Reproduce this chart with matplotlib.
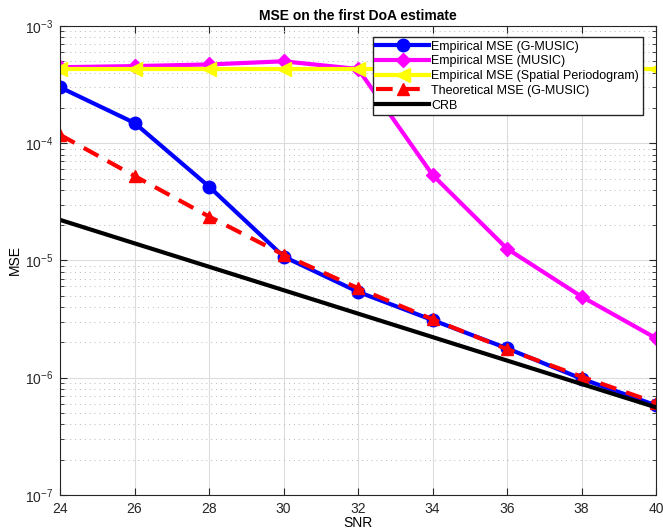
import matplotlib
matplotlib.use('Agg')
import matplotlib.pyplot as plt
import numpy as np
from matplotlib.ticker import LogLocator, NullFormatter

plt.rcParams['font.family'] = ['Liberation Sans', 'DejaVu Sans']
plt.rcParams['mathtext.default'] = 'regular'
plt.rcParams['font.size'] = 10

snr = [24, 26, 28, 30, 32, 34, 36, 38, 40]
mse_gmusic = [3.0e-4, 1.49e-4, 4.27e-5, 1.08e-5, 5.4e-6, 3.1e-6, 1.78e-6, 0.98e-6, 5.8e-7]
mse_music = [4.45e-4, 4.55e-4, 4.7e-4, 5.0e-4, 4.3e-4, 5.37e-5, 1.26e-5, 4.92e-6, 2.17e-6]
mse_periodogram = [4.3e-4, 4.3e-4, 4.3e-4, 4.3e-4, 4.3e-4, 4.3e-4, 4.3e-4, 4.3e-4, 4.3e-4]
mse_theory = [1.18e-4, 5.26e-5, 2.37e-5, 1.12e-5, 5.8e-6, 3.15e-6, 1.75e-6, 1.02e-6, 6.1e-7]
crb = [2.22e-5, 1.40e-5, 8.84e-6, 5.58e-6, 3.52e-6, 2.22e-6, 1.40e-6, 8.84e-7, 5.58e-7]

fig = plt.figure(figsize=(6.63, 5.31), dpi=100)
ax = fig.add_axes([0.0905, 0.068, 0.899, 0.883])

ax.semilogy(snr, mse_gmusic, '-o', color='blue', lw=3, ms=9, label='Empirical MSE (G-MUSIC)')
ax.semilogy(snr, mse_music, '-D', color='magenta', lw=3, ms=7, label='Empirical MSE (MUSIC)')
ax.semilogy(snr, mse_periodogram, '-<', color='yellow', lw=3, ms=10, label='Empirical MSE (Spatial Periodogram)')
ax.semilogy(snr, mse_theory, '--^', color='red', lw=3, ms=9, dashes=(4, 2.5),
            markerfacecolor='red', label='Theoretical MSE (G-MUSIC)')
ax.semilogy(snr, crb, '-', color='black', lw=3, label='CRB')

ax.set_xlim(24, 40)
ax.set_ylim(1e-7, 1e-3)
ax.set_xticks(snr)
ax.yaxis.set_major_locator(LogLocator(base=10, numticks=10))
ax.yaxis.set_minor_locator(LogLocator(base=10, subs=np.arange(2, 10), numticks=20))
ax.yaxis.set_minor_formatter(NullFormatter())

ax.grid(True, which='major', color='#dcdcdc', lw=0.8, ls='-')
ax.grid(True, which='minor', axis='y', color='#b8b8b8', lw=0.7, ls=(0, (1, 4)))
ax.set_axisbelow(True)
ax.tick_params(which='both', direction='in', top=True, right=True, colors='#262626', labelsize=10)
ax.tick_params(which='major', length=5, pad=5)
ax.tick_params(which='minor', length=3)
for s in ax.spines.values():
    s.set_color('#262626')
    s.set_linewidth(0.8)

ax.set_title('MSE on the first DoA estimate', fontweight='bold', fontsize=10, pad=4)
ax.set_xlabel('SNR', labelpad=0)
ax.set_ylabel('MSE', labelpad=2)

ax.legend(loc='upper right', bbox_to_anchor=(0.978, 0.977), borderaxespad=0, fontsize=9,
          frameon=True, fancybox=False, edgecolor='#262626', framealpha=1,
          handlelength=4.2, handletextpad=0.2, labelspacing=0.22, borderpad=0.3)

fig.savefig('out.png', dpi=100)
